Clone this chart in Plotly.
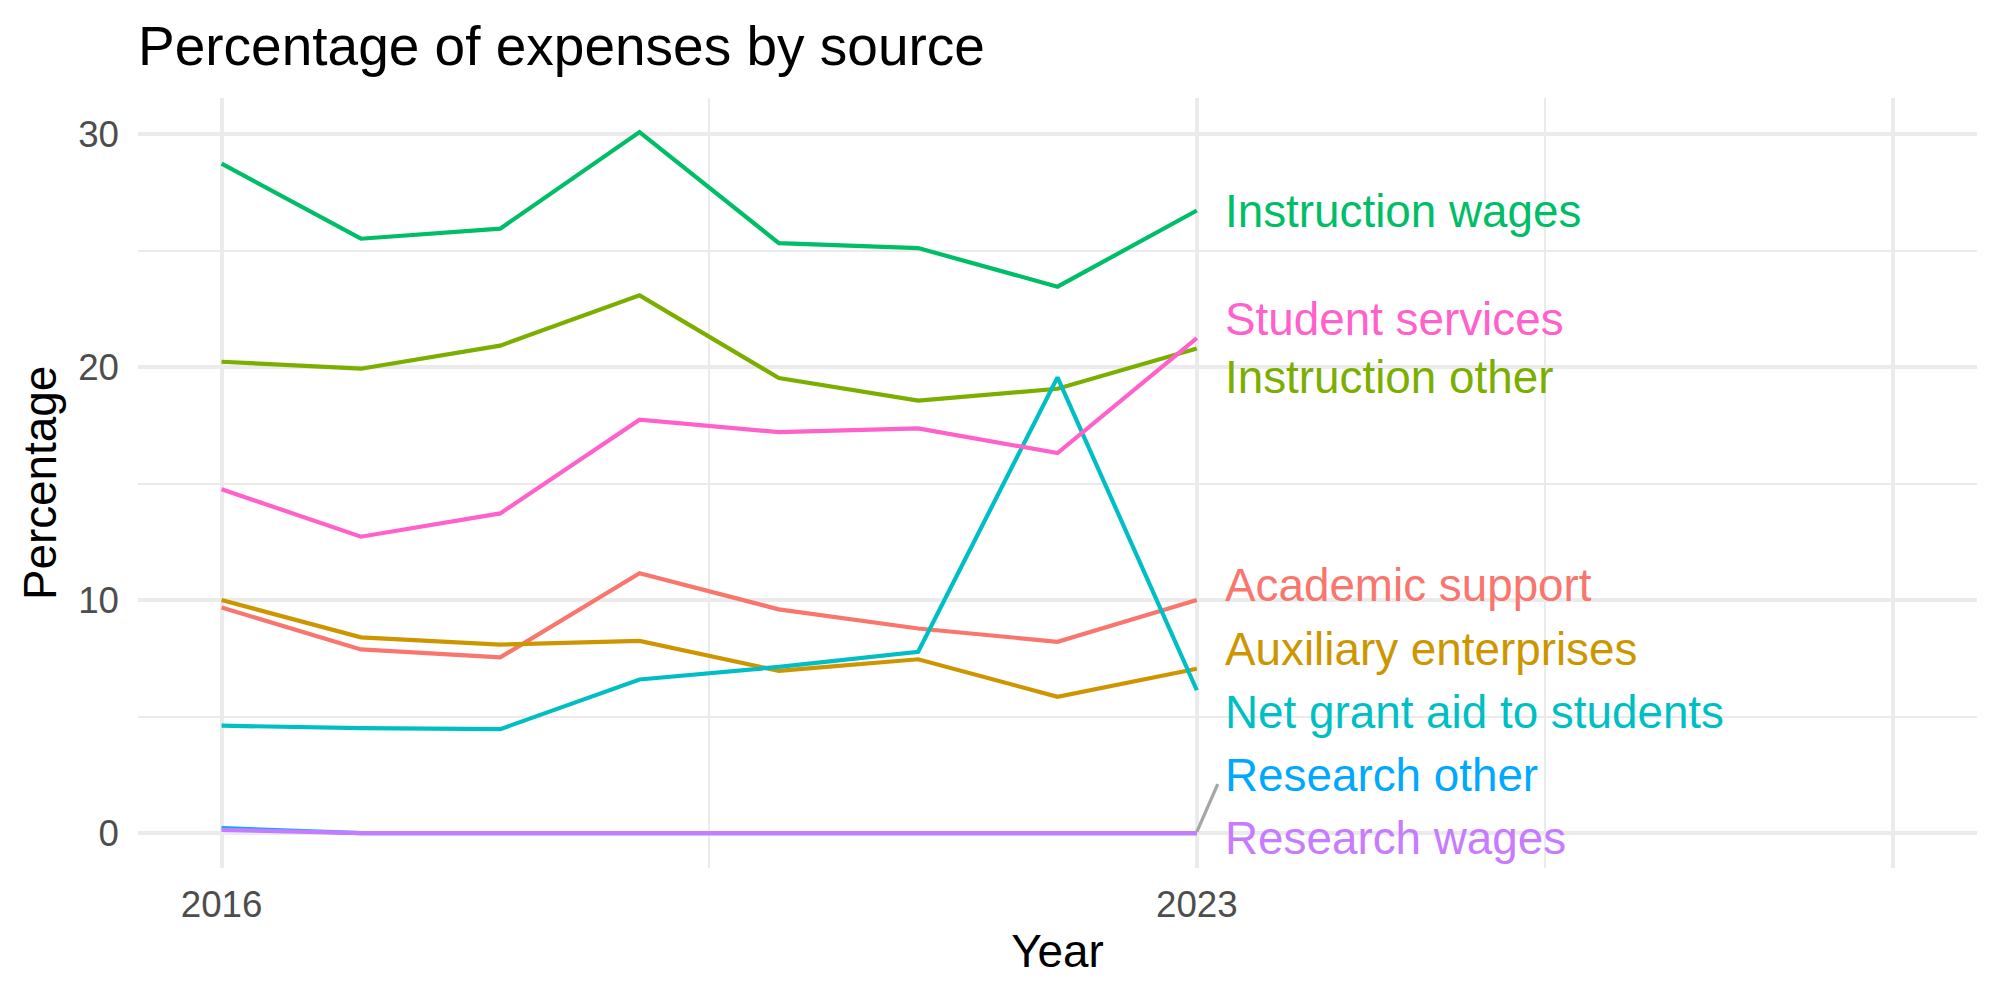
import plotly.graph_objects as go

years = [2016, 2017, 2018, 2019, 2020, 2021, 2022, 2023]

series_names = [
    "Academic support",
    "Auxiliary enterprises",
    "Instruction other",
    "Instruction wages",
    "Net grant aid to students",
    "Research other",
    "Research wages",
    "Student services",
]

academic_support = [9.68, 7.88, 7.54, 11.15, 9.60, 8.78, 8.21, 10.00]
auxiliary_enterprises = [10.00, 8.40, 8.09, 8.25, 6.96, 7.46, 5.85, 7.05]
instruction_other = [20.23, 19.93, 20.92, 23.08, 19.53, 18.56, 19.07, 20.80]
instruction_wages = [28.73, 25.51, 25.94, 30.09, 25.32, 25.11, 23.45, 26.72]
net_grant_aid = [4.61, 4.50, 4.46, 6.59, 7.13, 7.78, 19.56, 6.13]
research_other = [0.21, 0.0, 0.0, 0.0, 0.0, 0.0, 0.0, 0.0]
research_wages = [0.14, 0.0, 0.0, 0.0, 0.0, 0.0, 0.0, 0.0]
student_services = [14.76, 12.72, 13.72, 17.74, 17.21, 17.37, 16.31, 21.24]

series_values = [
    academic_support,
    auxiliary_enterprises,
    instruction_other,
    instruction_wages,
    net_grant_aid,
    research_other,
    research_wages,
    student_services,
]

colors = ["#F8766D", "#CD9600", "#7CAE00", "#00BE67",
          "#00BFC4", "#00A9FF", "#C77CFF", "#FF61CC"]

# repelled label positions (data units)
label_x = 2023.19
label_y = [10.64, 7.88, 19.56, 26.69, 5.19, 2.45, -0.22, 22.06]

# repel segment for "Research other"
segment_x = [2023.0, 2023.15]
segment_y = [0.05, 2.1]

x_tickvals = [2016, 2023, 2028]
x_ticktext = ["2016", "2023", ""]
x_minor = [2019.5, 2025.5]
y_tickvals = [0, 10, 20, 30]
y_ticktext = ["0", "10", "20", "30"]
y_minor = [5, 15, 25]

FONT = "Liberation Sans"
GRID = "#EBEBEB"

fig = go.Figure()
for name, vals, col in zip(series_names, series_values, colors):
    fig.add_trace(go.Scatter(
        x=years, y=vals, mode="lines", name=name,
        line=dict(color=col, width=4.2), showlegend=False,
        hoverinfo="skip",
    ))

fig.add_trace(go.Scatter(
    x=segment_x, y=segment_y, mode="lines",
    line=dict(color="#A6A6A6", width=3.3), showlegend=False, hoverinfo="skip",
))

for name, ly, col in zip(series_names, label_y, colors):
    fig.add_annotation(
        x=label_x, y=ly, xref="x", yref="y", text=name, showarrow=False,
        xanchor="left", yanchor="middle",
        font=dict(family=FONT, size=45.8, color=col),
    )

fig.update_layout(
    width=2000, height=1000,
    paper_bgcolor="white", plot_bgcolor="white",
    margin=dict(l=138, r=23, t=98, b=132),
    title=dict(
        text="Percentage of expenses by source",
        font=dict(family=FONT, size=55, color="black"),
        xref="paper", x=0, xanchor="left",
        yref="container", y=1 - 46 / 1000, yanchor="middle",
    ),
    font=dict(family=FONT),
)

fig.update_xaxes(
    range=[2015.4, 2028.6],
    tickmode="array", tickvals=x_tickvals, ticktext=x_ticktext,
    showgrid=True, gridcolor=GRID, gridwidth=4.4,
    minor=dict(tickmode="array", tickvals=x_minor, showgrid=True,
               gridcolor=GRID, gridwidth=2.2),
    zeroline=False, showline=False, ticks="",
    tickfont=dict(family=FONT, size=36.7, color="#4D4D4D"),
    ticklabelstandoff=11,
    title=dict(text="Year", font=dict(family=FONT, size=45.8, color="black"),
               standoff=11),
)

fig.update_yaxes(
    range=[-1.50, 31.55],
    tickmode="array", tickvals=y_tickvals, ticktext=y_ticktext,
    showgrid=True, gridcolor=GRID, gridwidth=4.4,
    minor=dict(tickmode="array", tickvals=y_minor, showgrid=True,
               gridcolor=GRID, gridwidth=2.2),
    zeroline=False, showline=False, ticks="",
    tickfont=dict(family=FONT, size=36.7, color="#4D4D4D"),
    ticklabelstandoff=18,
    title=dict(text="Percentage", font=dict(family=FONT, size=45.8, color="black"),
               standoff=7),
)

fig.write_html("out.html")
